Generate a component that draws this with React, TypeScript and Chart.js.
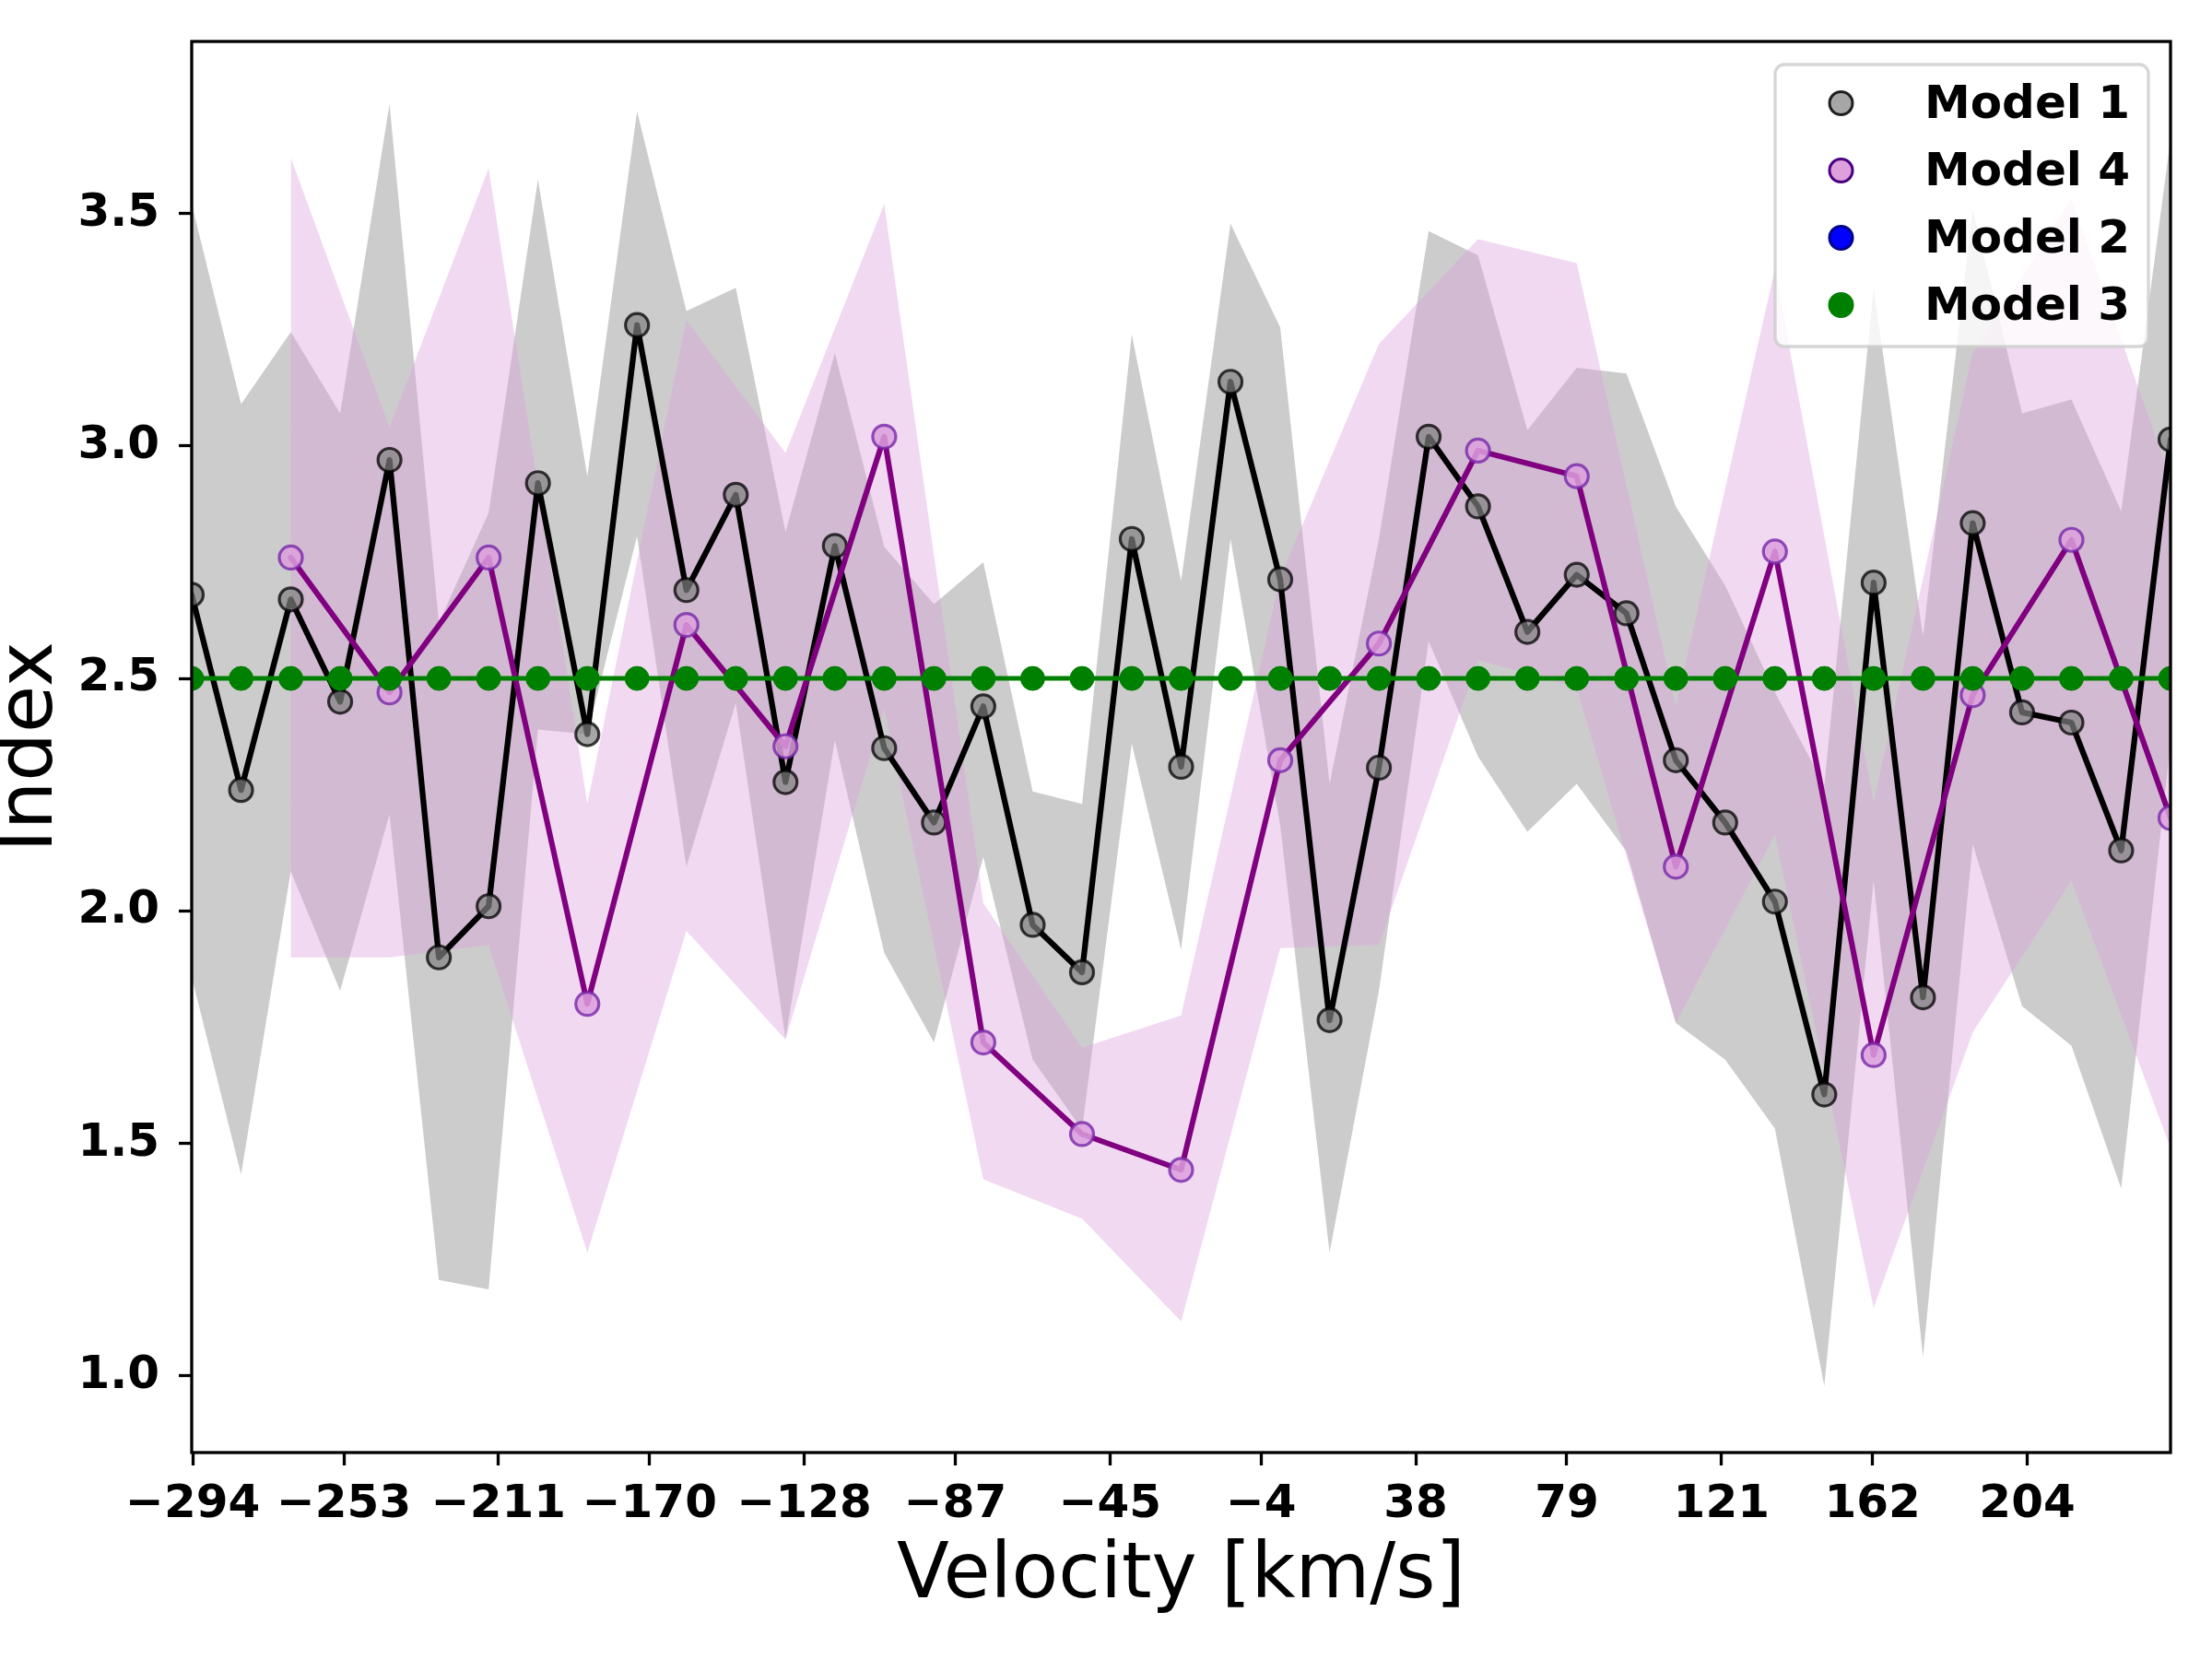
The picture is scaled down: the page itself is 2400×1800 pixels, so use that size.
import { useEffect, useRef } from 'react';
import Chart, { Plugin } from 'chart.js/auto';

// velocity grid (km/s): 41 samples
const velocity = [
  -294.3, -280.9, -267.4, -254.0, -240.6, -227.2, -213.7, -200.3, -186.9, -173.4,
  -160.0, -146.6, -133.1, -119.7, -106.3, -92.8, -79.4, -66.0, -52.6, -39.1,
  -25.7, -12.3, 1.2, 14.6, 28.0, 41.5, 54.9, 68.3, 81.7, 95.2,
  108.6, 122.0, 135.5, 148.9, 162.3, 175.7, 189.2, 202.6, 216.0, 229.5,
  242.9,
];

const model1 = [
  2.68, 2.26, 2.67, 2.45, 2.97, 1.9, 2.01, 2.92, 2.38, 3.26,
  2.69, 2.895, 2.277, 2.785, 2.35, 2.19, 2.44, 1.97, 1.868, 2.8,
  2.31, 3.138, 2.713, 1.765, 2.308, 3.02, 2.87, 2.6, 2.723, 2.64,
  2.324, 2.19, 2.02, 1.605, 2.706, 1.814, 2.834, 2.427, 2.405, 2.13,
  3.014,
];
const model1Upper = [
  3.52, 3.09, 3.245, 3.07, 3.735, 2.62, 2.856, 3.573, 2.935, 3.72,
  3.29, 3.34, 2.815, 3.2, 2.783, 2.66, 2.75, 2.257, 2.23, 3.24,
  2.71, 3.478, 3.255, 2.273, 2.8, 3.462, 3.41, 3.034, 3.168, 3.156,
  2.87, 2.7, 2.47, 2.27, 3.34, 2.59, 3.51, 3.07, 3.1, 2.86,
  3.66,
];
const model1Lower = [
  1.858, 1.433, 2.085, 1.828, 2.208, 1.206, 1.186, 2.39, 2.38, 2.806,
  2.095, 2.447, 1.725, 2.367, 1.91, 1.717, 2.116, 1.68, 1.53, 2.36,
  1.917, 2.8, 2.184, 1.265, 1.828, 2.58, 2.332, 2.17, 2.273, 2.128,
  1.759, 1.68, 1.532, 0.978, 2.065, 1.04, 2.144, 1.795, 1.71, 1.403,
  2.36,
];

// Model 4 is only sampled on every second velocity, starting at the third one
const model4 = [
  2.76, 2.47, 2.76, 1.8, 2.615, 2.354, 3.02, 1.717, 1.52, 1.443,
  2.324, 2.575, 2.99, 2.935, 2.095, 2.773, 1.69, 2.464, 2.798, 2.2,
];
const model4Upper = [
  3.62, 3.04, 3.597, 2.23, 3.27, 2.985, 3.52, 2.016, 1.706, 1.775,
  2.717, 3.22, 3.445, 3.393, 2.44, 3.38, 2.233, 3.2, 3.53, 2.93,
];
const model4Lower = [
  1.9, 1.9, 1.927, 1.265, 1.957, 1.723, 2.435, 1.423, 1.338, 1.117,
  1.92, 1.927, 2.54, 2.48, 1.759, 2.164, 1.146, 1.739, 2.065, 1.49,
];

const model2 = [
  2.5, 2.5, 2.5, 2.5, 2.5, 2.5, 2.5, 2.5, 2.5, 2.5,
  2.5, 2.5, 2.5, 2.5, 2.5, 2.5, 2.5, 2.5, 2.5, 2.5,
  2.5, 2.5, 2.5, 2.5, 2.5, 2.5, 2.5, 2.5, 2.5, 2.5,
  2.5, 2.5, 2.5, 2.5, 2.5, 2.5, 2.5, 2.5, 2.5, 2.5,
  2.5,
];
const model3 = [
  2.5, 2.5, 2.5, 2.5, 2.5, 2.5, 2.5, 2.5, 2.5, 2.5,
  2.5, 2.5, 2.5, 2.5, 2.5, 2.5, 2.5, 2.5, 2.5, 2.5,
  2.5, 2.5, 2.5, 2.5, 2.5, 2.5, 2.5, 2.5, 2.5, 2.5,
  2.5, 2.5, 2.5, 2.5, 2.5, 2.5, 2.5, 2.5, 2.5, 2.5,
  2.5,
];

const xTickLabels = ['−294', '−253', '−211', '−170', '−128', '−87', '−45', '−4', '38', '79', '121', '162', '204'];
const yTickLabels = ['1.0', '1.5', '2.0', '2.5', '3.0', '3.5'];
const legendLabels = ['Model 1', 'Model 4', 'Model 2', 'Model 3'];

const model4Velocity = velocity.filter((_, i) => i >= 2 && i % 2 === 0);
const pts = (xs: number[], ys: number[]) => xs.map((x, i) => ({ x, y: ys[i] }));
const toNumber = (s: string) => Number(s.replace('−', '-'));

const FONT = 'DejaVu Sans';

const legendStyle: Record<string, { fill: string; edge: string }> = {
  'Model 1': { fill: 'rgba(128,128,128,0.7)', edge: 'rgba(0,0,0,0.85)' },
  'Model 4': { fill: 'rgb(221,160,221)', edge: 'rgb(75,0,130)' },
  'Model 2': { fill: 'rgb(0,0,255)', edge: 'rgb(0,0,139)' },
  'Model 3': { fill: 'rgb(0,128,0)', edge: 'rgb(0,128,0)' },
};

const frame: Plugin = {
  id: 'frame',
  afterDatasetsDraw(chart) {
    const { ctx, chartArea: a } = chart;
    ctx.save();
    ctx.strokeStyle = '#000';
    ctx.lineWidth = 3.3;
    ctx.strokeRect(a.left, a.top, a.right - a.left, a.bottom - a.top);
    ctx.restore();
  },
};

const boxLegend: Plugin = {
  id: 'boxLegend',
  afterDraw(chart) {
    const { ctx, chartArea: a } = chart;
    const w = 405;
    const h = 306;
    const x0 = a.right - 24 - w;
    const y0 = a.top + 25;
    ctx.save();
    ctx.beginPath();
    ctx.roundRect(x0, y0, w, h, 10);
    ctx.fillStyle = 'rgba(255,255,255,0.8)';
    ctx.fill();
    ctx.strokeStyle = 'rgba(204,204,204,0.8)';
    ctx.lineWidth = 3.3;
    ctx.stroke();
    ctx.font = `bold 50px "${FONT}"`;
    ctx.textBaseline = 'alphabetic';
    ctx.textAlign = 'left';
    legendLabels.forEach((label, i) => {
      const st = legendStyle[label];
      const cy = y0 + 42 + i * 73;
      ctx.beginPath();
      ctx.arc(x0 + 71.5, cy, 12.5, 0, Math.PI * 2);
      ctx.fillStyle = st.fill;
      ctx.fill();
      ctx.lineWidth = 3;
      ctx.strokeStyle = st.edge;
      ctx.stroke();
      ctx.fillStyle = '#000';
      ctx.fillText(label, x0 + 162, cy + 16);
    });
    ctx.restore();
  },
};

export default function App() {
  const canvasRef = useRef<HTMLCanvasElement | null>(null);

  useEffect(() => {
    if (!canvasRef.current) return undefined;
    document.body.style.margin = '0';

    const lineStyle = { borderJoinStyle: 'round' as const, borderCapStyle: 'round' as const, fill: false };

    const chart = new Chart(canvasRef.current, {
      type: 'line',
      data: {
        datasets: [
          {
            label: 'Model 1 lower',
            data: pts(velocity, model1Lower),
            borderColor: 'transparent',
            borderWidth: 0,
            pointRadius: 0,
            fill: false,
            order: 6,
          },
          {
            label: 'Model 1 upper',
            data: pts(velocity, model1Upper),
            borderColor: 'transparent',
            borderWidth: 0,
            pointRadius: 0,
            fill: '-1',
            backgroundColor: 'rgba(128,128,128,0.4)',
            order: 6,
          },
          {
            label: 'Model 4 lower',
            data: pts(model4Velocity, model4Lower),
            borderColor: 'transparent',
            borderWidth: 0,
            pointRadius: 0,
            fill: false,
            order: 5,
          },
          {
            label: 'Model 4 upper',
            data: pts(model4Velocity, model4Upper),
            borderColor: 'transparent',
            borderWidth: 0,
            pointRadius: 0,
            fill: '-1',
            backgroundColor: 'rgba(221,160,221,0.4)',
            order: 5,
          },
          {
            ...lineStyle,
            label: 'Model 1',
            data: pts(velocity, model1),
            borderColor: '#000',
            borderWidth: 6.25,
            pointRadius: 12.5,
            pointBorderWidth: 3.2,
            pointBackgroundColor: 'rgba(128,128,128,0.7)',
            pointBorderColor: 'rgba(0,0,0,0.75)',
            order: 4,
          },
          {
            ...lineStyle,
            label: 'Model 4',
            data: pts(model4Velocity, model4),
            borderColor: '#800080',
            borderWidth: 6,
            pointRadius: 12.5,
            pointBorderWidth: 3.2,
            pointBackgroundColor: 'rgba(221,160,221,0.85)',
            pointBorderColor: 'rgba(120,40,170,0.8)',
            order: 3,
          },
          {
            ...lineStyle,
            label: 'Model 2',
            data: pts(velocity, model2),
            borderColor: '#0000ff',
            borderWidth: 4,
            pointRadius: 12,
            pointBorderWidth: 1,
            pointBackgroundColor: '#0000ff',
            pointBorderColor: '#00008b',
            order: 2,
          },
          {
            ...lineStyle,
            label: 'Model 3',
            data: pts(velocity, model3),
            borderColor: '#008000',
            borderWidth: 5,
            pointRadius: 13,
            pointBorderWidth: 1,
            pointBackgroundColor: '#008000',
            pointBorderColor: '#008000',
            order: 1,
          },
        ],
      },
      options: {
        responsive: false,
        animation: false,
        devicePixelRatio: 1,
        events: [],
        clip: 0,
        layout: { padding: { top: 45, right: 45, left: 0, bottom: 0 } },
        plugins: {
          legend: { display: false },
          tooltip: { enabled: false },
        },
        scales: {
          x: {
            type: 'linear',
            min: velocity[0],
            max: velocity[velocity.length - 1],
            afterBuildTicks: (scale) => {
              scale.ticks = xTickLabels.map((s) => ({ value: toNumber(s) }));
            },
            afterFit: (scale) => {
              scale.height = 224;
              scale.paddingLeft = 0;
              scale.paddingRight = 0;
            },
            ticks: {
              autoSkip: false,
              maxRotation: 0,
              padding: 13,
              color: '#000',
              font: { family: FONT, size: 50, weight: 'bold' },
              callback: (_v, i) => xTickLabels[i],
            },
            grid: {
              drawOnChartArea: false,
              drawTicks: true,
              tickLength: 14,
              tickWidth: 3.3,
              tickColor: '#000',
            },
            border: { display: false },
            title: {
              display: true,
              text: 'Velocity [km/s]',
              color: '#000',
              font: { family: FONT, size: 83, weight: 'normal', lineHeight: 1.2 },
              padding: { top: 0, bottom: 39 },
            },
          },
          y: {
            type: 'linear',
            min: 0.835,
            max: 3.87,
            afterBuildTicks: (scale) => {
              scale.ticks = yTickLabels.map((s) => ({ value: Number(s) }));
            },
            afterFit: (scale) => {
              scale.width = 208;
              scale.paddingTop = 0;
              scale.paddingBottom = 0;
            },
            ticks: {
              padding: 21,
              color: '#000',
              font: { family: FONT, size: 50, weight: 'bold' },
              callback: (_v, i) => yTickLabels[i],
            },
            grid: {
              drawOnChartArea: false,
              drawTicks: true,
              tickLength: 14,
              tickWidth: 3.3,
              tickColor: '#000',
            },
            border: { display: false },
            title: {
              display: true,
              text: 'Index',
              color: '#000',
              font: { family: FONT, size: 83, weight: 'normal', lineHeight: 0.8 },
              padding: { top: 1, bottom: 0 },
            },
          },
        },
      },
      plugins: [frame, boxLegend],
    });

    return () => {
      chart.destroy();
    };
  }, []);

  return (
    <canvas
      ref={canvasRef}
      width={2400}
      height={1800}
      style={{ position: 'absolute', left: 0, top: 0, display: 'block' }}
    />
  );
}
